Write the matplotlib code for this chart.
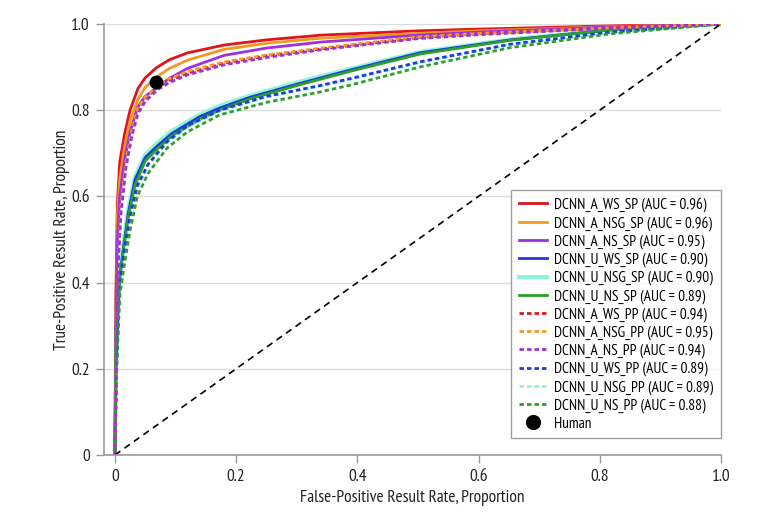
"""
ROC curves for the DCNN models vs human reader
"""

import matplotlib
matplotlib.use("Agg")
import matplotlib.pyplot as plt

plt.rcParams['font.family'] = ['PT Sans Narrow', 'DejaVu Sans']


# Step 1: data (false-positive rate, true-positive rate)

labels = [
    "DCNN_A_WS_SP (AUC = 0.96)",
    "DCNN_A_NSG_SP (AUC = 0.96)",
    "DCNN_A_NS_SP (AUC = 0.95)",
    "DCNN_U_WS_SP (AUC = 0.90)",
    "DCNN_U_NSG_SP (AUC = 0.90)",
    "DCNN_U_NS_SP (AUC = 0.89)",
    "DCNN_A_WS_PP (AUC = 0.94)",
    "DCNN_A_NSG_PP (AUC = 0.95)",
    "DCNN_A_NS_PP (AUC = 0.94)",
    "DCNN_U_WS_PP (AUC = 0.89)",
    "DCNN_U_NSG_PP (AUC = 0.89)",
    "DCNN_U_NS_PP (AUC = 0.88)",
]

fpr_a = [0, 0.002, 0.004, 0.008, 0.016, 0.025, 0.038, 0.05, 0.068, 0.09, 0.12, 0.18, 0.25, 0.34, 0.5, 0.6, 0.8, 1.0]
tpr_a_ws_sp = [0, 0.40, 0.58, 0.68, 0.745, 0.80, 0.85, 0.875, 0.898, 0.917, 0.933, 0.951, 0.963, 0.974, 0.984, 0.988, 0.995, 1.0]
tpr_a_nsg_sp = [0, 0.38, 0.55, 0.64, 0.715, 0.775, 0.825, 0.853, 0.876, 0.897, 0.916, 0.941, 0.955, 0.967, 0.978, 0.984, 0.993, 1.0]
tpr_a_ns_sp = [0, 0.36, 0.50, 0.60, 0.685, 0.75, 0.808, 0.832, 0.851, 0.874, 0.897, 0.927, 0.944, 0.958, 0.974, 0.981, 0.992, 1.0]

fpr_a_pp = [0, 0.003, 0.006, 0.01, 0.018, 0.028, 0.038, 0.05, 0.07, 0.09, 0.12, 0.18, 0.25, 0.34, 0.5, 0.6, 0.8, 1.0]
tpr_a_ws_pp = [0, 0.29, 0.47, 0.57, 0.675, 0.75, 0.80, 0.826, 0.852, 0.869, 0.886, 0.909, 0.926, 0.942, 0.968, 0.977, 0.99, 1.0]
tpr_a_nsg_pp = [0, 0.30, 0.48, 0.58, 0.68, 0.755, 0.805, 0.83, 0.856, 0.873, 0.89, 0.912, 0.928, 0.944, 0.97, 0.978, 0.99, 1.0]
tpr_a_ns_pp = [0, 0.28, 0.46, 0.56, 0.665, 0.74, 0.792, 0.82, 0.847, 0.864, 0.882, 0.905, 0.922, 0.94, 0.966, 0.975, 0.989, 1.0]

fpr_u = [0, 0.002, 0.005, 0.008, 0.014, 0.022, 0.033, 0.05, 0.07, 0.094, 0.14, 0.173, 0.223, 0.305, 0.388, 0.503, 0.652, 0.817, 1.0]
tpr_u_ws_sp = [0, 0.20, 0.33, 0.41, 0.48, 0.56, 0.638, 0.69, 0.717, 0.746, 0.785, 0.805, 0.83, 0.862, 0.893, 0.933, 0.963, 0.986, 1.0]
tpr_u_nsg_sp = [0, 0.21, 0.34, 0.42, 0.49, 0.57, 0.645, 0.697, 0.724, 0.752, 0.79, 0.81, 0.834, 0.866, 0.896, 0.935, 0.964, 0.986, 1.0]
tpr_u_ns_sp = [0, 0.30, 0.36, 0.41, 0.475, 0.55, 0.625, 0.682, 0.71, 0.74, 0.779, 0.80, 0.826, 0.859, 0.89, 0.93, 0.962, 0.986, 1.0]

fpr_u_pp = [0, 0.003, 0.008, 0.016, 0.025, 0.037, 0.055, 0.086, 0.12, 0.173, 0.25, 0.338, 0.388, 0.503, 0.652, 0.817, 1.0]
tpr_u_ws_pp = [0, 0.22, 0.40, 0.48, 0.555, 0.625, 0.675, 0.727, 0.764, 0.80, 0.832, 0.857, 0.873, 0.912, 0.953, 0.981, 1.0]
tpr_u_nsg_pp = [0, 0.22, 0.39, 0.47, 0.55, 0.62, 0.672, 0.724, 0.761, 0.797, 0.83, 0.855, 0.871, 0.91, 0.952, 0.98, 1.0]
tpr_u_ns_pp = [0, 0.20, 0.37, 0.445, 0.52, 0.60, 0.654, 0.712, 0.75, 0.789, 0.818, 0.842, 0.858, 0.90, 0.945, 0.977, 1.0]

human_fpr = 0.068
human_tpr = 0.865


# Step 2: styles

red = '#e3131b'
orange = '#f39a1e'
purple = '#9a32e0'
blue = '#1f3ad8'
cyan = '#8ff5dc'
green = '#2ca02c'
dash = (0, (1.6, 1.1))

curves = [
    (fpr_a, tpr_a_ws_sp, red, '-', 2.0),
    (fpr_a, tpr_a_nsg_sp, orange, '-', 2.0),
    (fpr_a, tpr_a_ns_sp, purple, '-', 2.0),
    (fpr_u, tpr_u_ws_sp, blue, '-', 2.0),
    (fpr_u, tpr_u_nsg_sp, cyan, '-', 3.0),
    (fpr_u, tpr_u_ns_sp, green, '-', 2.0),
    (fpr_a_pp, tpr_a_ws_pp, red, dash, 2.0),
    (fpr_a_pp, tpr_a_nsg_pp, orange, dash, 2.0),
    (fpr_a_pp, tpr_a_ns_pp, purple, dash, 2.0),
    (fpr_u_pp, tpr_u_ws_pp, blue, dash, 2.0),
    (fpr_u_pp, tpr_u_nsg_pp, cyan, dash, 2.0),
    (fpr_u_pp, tpr_u_ns_pp, green, dash, 2.0),
]


# Step 3: plot

fig = plt.figure(figsize=(7.83, 5.15), dpi=100)
ax = fig.add_axes([0.1328, 0.1165, 0.788, 0.837])

# draw order: cyan under blue/green, dashed on top
order = [4, 0, 1, 2, 3, 5, 10, 9, 11, 6, 7, 8]
handles = [None] * len(curves)
for i in order:
    x, y, c, ls, lw = curves[i]
    handles[i], = ax.plot(x, y, color=c, linestyle=ls, linewidth=lw, label=labels[i])

ax.plot([0, 1], [0, 1], color='black', linestyle=(0, (4, 3)), linewidth=1.2)
hum, = ax.plot([human_fpr], [human_tpr], 'o', color='black', markersize=9,
               linestyle='none', label='Human', zorder=5)

ax.set_xlim(-0.018, 1.0)
ax.set_ylim(0, 1.0)
ticks = [0, 0.2, 0.4, 0.6, 0.8, 1.0]
tick_labels = ['0', '0.2', '0.4', '0.6', '0.8', '1.0']
ax.set_xticks(ticks)
ax.set_xticklabels(tick_labels)
ax.set_yticks(ticks)
ax.set_yticklabels(tick_labels)
ax.tick_params(direction='out', length=6, width=1, color='#999999',
               labelsize=12.5, labelcolor='#222222', pad=4)

for s in ['top', 'right']:
    ax.spines[s].set_visible(False)
for s in ['left', 'bottom']:
    ax.spines[s].set_color('#999999')
    ax.spines[s].set_linewidth(1.2)

ax.yaxis.grid(True, color='#dddddd', linewidth=1)
ax.set_axisbelow(True)

ax.set_xlabel('False-Positive Result Rate, Proportion', fontsize=12.5, color='#222222', labelpad=4)
ax.set_ylabel('True-Positive Result Rate, Proportion', fontsize=12.5, color='#222222', labelpad=1)

leg = ax.legend(handles + [hum], labels + ['Human'], loc='lower right',
                bbox_to_anchor=(1.0, 0.039), borderaxespad=0, fontsize=11,
                frameon=True, fancybox=False, edgecolor='#888888',
                handlelength=1.8, labelspacing=0.24, borderpad=0.5,
                handletextpad=0.5, markerscale=1.1)
leg.get_frame().set_linewidth(1)

fig.savefig('out.png', dpi=100)
